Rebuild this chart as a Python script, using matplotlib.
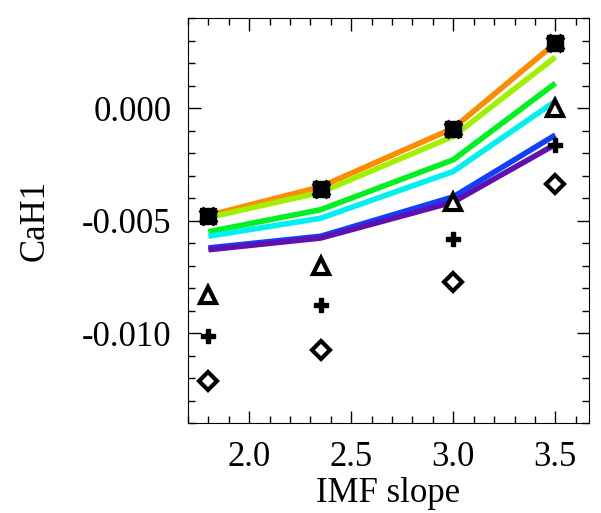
import numpy as np
from matplotlib import pyplot as plt
from matplotlib.ticker import MultipleLocator

plt.rcParams['font.family'] = ['Liberation Serif', 'DejaVu Serif']

imf_slope = [1.8, 2.35, 3.0, 3.5]

# model lines, top to bottom
line_colors = ["#ff8c00", "#a0f000", "#00f020", "#00f0f0", "#1040ff", "#6010b0"]
line_values = [
    [-0.00478, -0.00350, -0.00090, 0.00288],
    [-0.00487, -0.00375, -0.00126, 0.00226],
    [-0.00550, -0.00452, -0.00230, 0.00110],
    [-0.00570, -0.00490, -0.00282, 0.00030],
    [-0.00622, -0.00570, -0.00395, -0.00120],
    [-0.00630, -0.00578, -0.00418, -0.00162],
]

# measured points
squares = [-0.00478, -0.00358, -0.00093, 0.00288]
triangles = [-0.00830, -0.00700, -0.00416, 0.00000]
crosses = [-0.01015, -0.00876, -0.00584, -0.00164]
diamonds = [-0.01212, -0.01075, -0.00774, -0.00336]

fig = plt.figure(figsize=(6.01, 5.13), dpi=100)
ax = fig.add_axes([188 / 601, 1 - 423 / 513, 401 / 601, 405 / 513])

for c, v in zip(line_colors, line_values):
    ax.plot(imf_slope, v, color=c, lw=4, solid_capstyle="butt")

ax.plot(imf_slope, squares, ls="none", marker="s", ms=11, color="black")
ax.plot(imf_slope, squares, ls="none", marker="X", ms=13, color="black")
ax.plot(imf_slope, triangles, ls="none", marker="^", ms=12, mfc="white", mec="black", mew=3)
ax.plot(imf_slope, crosses, ls="none", marker="P", ms=10, color="black")
ax.plot(imf_slope, diamonds, ls="none", marker="D", ms=9, mfc="white", mec="black", mew=3)

ax.set_xlim(1.7, 3.665)
ax.set_ylim(-0.014, 0.004)
ax.xaxis.set_major_locator(MultipleLocator(0.5))
ax.xaxis.set_minor_locator(MultipleLocator(0.1))
ax.yaxis.set_major_locator(MultipleLocator(0.005))
ax.yaxis.set_minor_locator(MultipleLocator(0.001))
ax.yaxis.set_major_formatter(plt.FormatStrFormatter("%.3f"))
ax.xaxis.set_major_formatter(plt.FormatStrFormatter("%.1f"))
ax.tick_params(which="both", direction="in", top=True, right=True, labelsize=25)
ax.tick_params(which="major", length=9, width=1)
ax.tick_params(which="minor", length=5, width=1)
ax.tick_params(axis="x", pad=13)
ax.tick_params(axis="y", pad=12)

ax.set_xlabel("IMF slope", fontsize=25, labelpad=2)
ax.set_ylabel("CaH1", fontsize=25, labelpad=22)

plt.savefig("out.png", dpi=100)
